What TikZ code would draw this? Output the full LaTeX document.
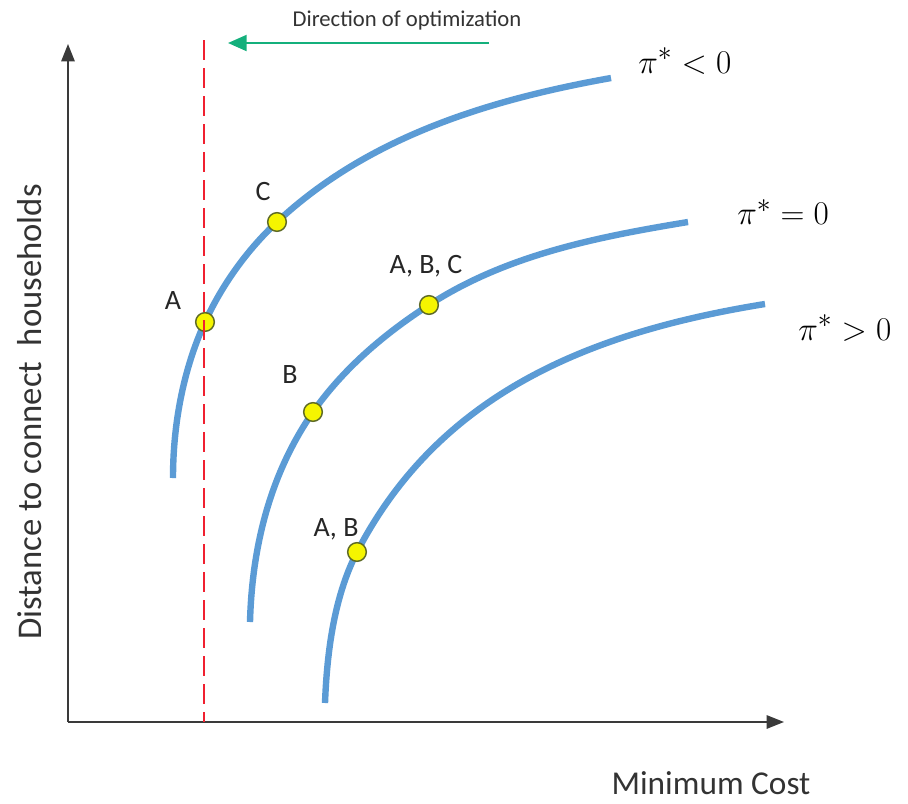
\documentclass[tikz,border=0pt]{standalone}
\usepackage[no-math]{fontspec}
\setmainfont{Carlito}
\usetikzlibrary{arrows.meta,positioning}
\definecolor{curveblue}{HTML}{5B9BD5}
\definecolor{optgreen}{HTML}{14B07C}
\definecolor{axisgray}{HTML}{3A3A3A}
\definecolor{dotyellow}{HTML}{F5F500}
\definecolor{dotrim}{HTML}{5E6A26}
\definecolor{limitred}{HTML}{F02030}
\tikzset{
  axis/.style={-{Triangle[length=13pt,width=10pt]}, line width=1.4pt, draw=axisgray},
  costcurve/.style={line width=4.8pt, draw=curveblue},
  optpoint/.style={circle, fill=dotyellow, draw=dotrim, line width=1.1pt, minimum size=14pt, inner sep=0pt},
  ptlabel/.style={font=\fontsize{21}{24}\selectfont, inner sep=0pt, text=black!85},
  pilabel/.style={font=\fontsize{28}{32}\selectfont, inner sep=0pt},
  axislabel/.style={font=\fontsize{26}{30}\selectfont, inner sep=0pt, text=black!80},
  limit/.style={line width=2.2pt, draw=limitred, dash pattern=on 15pt off 6pt},
  optarrow/.style={-{Triangle[length=14pt,width=12pt]}, line width=1.5pt, draw=optgreen}
}

\begin{document}
\begin{tikzpicture}[x=0.75pt, y=-0.75pt]
  \useasboundingbox (0,0) rectangle (908,804);
  % axes
  \coordinate (O) at (68,722);
  \coordinate (ytip) at (68,44);
  \coordinate (xtip) at (784,722);
  \draw[axis] (O) -- (ytip);
  \draw[axis] (O) -- (xtip);
  \node[axislabel, rotate=90] (ylab) at (30,412) {Distance to connect\ \ households};
  \node[axislabel, font=\fontsize{25}{28}\selectfont] (xlab) at (711,783) {Minimum Cost};

  % solutions
  \coordinate (a1) at (205,322);
  \coordinate (c1) at (277,222);
  \coordinate (b2) at (313,412);
  \coordinate (abc2) at (429,305);
  \coordinate (ab3) at (357,552);

  % iso-profit curves
  \draw[costcurve] (173,478) .. controls (173,425) and (183,370) .. (a1)
    .. controls (222,285) and (247,250) .. (c1)
    .. controls (368,137) and (488,100) .. (611,78);
  \draw[costcurve] (250,622) .. controls (252,547) and (270,474) .. (b2)
    .. controls (343,369) and (384,334) .. (abc2)
    .. controls (506,255) and (597,237) .. (688,222);
  \draw[costcurve] (325,703) .. controls (327,652) and (334,597) .. (ab3)
    .. controls (440,392) and (592,332) .. (765,304);

  \foreach \p in {a1,c1,b2,abc2,ab3}
    \node[optpoint] (\p dot) at (\p) {};

  % constraint line and direction
  \coordinate (limtop) at (204,40);
  \coordinate (limbot) at (204,722);
  \draw[limit] (limtop) -- (limbot);
  \coordinate (arrstart) at (489,43);
  \coordinate (arrend) at (228,43);
  \draw[optarrow] (arrstart) -- (arrend);
  \node[font=\fontsize{17}{20}\selectfont, inner sep=0pt, text=black!80] (dirlab) at (407,20) {Direction of optimization};

  \node[pilabel, anchor=west] (neg) at (638,61) {$\pi^* < 0$};
  \node[pilabel, anchor=west] (zero) at (737,212) {$\pi^* = 0$};
  \node[pilabel, anchor=west] (pos) at (798,328) {$\pi^* > 0$};

  \node[ptlabel] (a1lab) at (173,301) {A};
  \node[ptlabel] (c1lab) at (263,192) {C};
  \node[ptlabel] (b2lab) at (290,375) {B};
  \node[ptlabel] (abc2lab) at (426,266) {A, B, C};
  \node[ptlabel] (ab3lab) at (336,529) {A, B};
\end{tikzpicture}
\end{document}
